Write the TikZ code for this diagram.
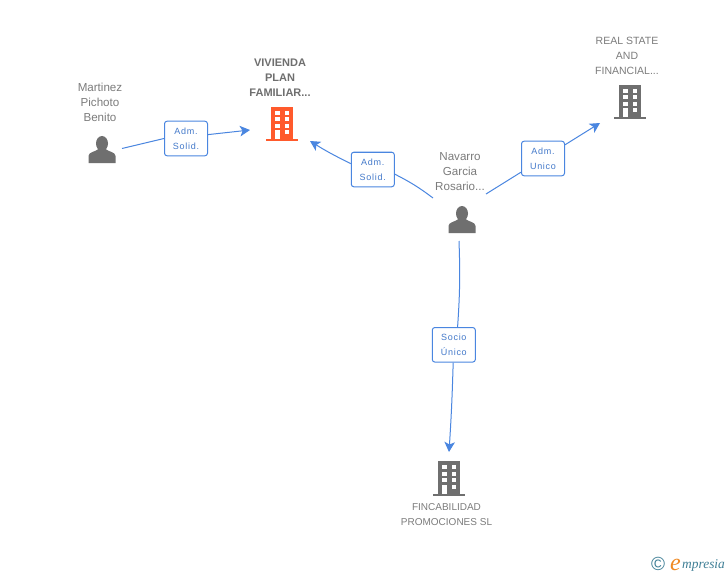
\documentclass[tikz,border=0pt]{standalone}
\usepackage{fontspec}
\setmainfont{Liberation Sans}
\newfontfamily\logofont{Liberation Serif}
\usetikzlibrary{arrows.meta}
\definecolor{linkblue}{HTML}{4A86E0}
\definecolor{icongray}{HTML}{6F6F6F}
\definecolor{textgray}{HTML}{7C7C7C}
\definecolor{iconred}{HTML}{FF5A2C}
\definecolor{logoteal}{HTML}{3F7F96}
\definecolor{logoorange}{HTML}{F08A24}
\tikzset{
    entity/.style={text=textgray,align=center,inner sep=0pt,font=\fontsize{10}{15}\selectfont},
    personname/.style={entity,font=\fontsize{11.6}{15}\selectfont},
    boldentity/.style={entity,text=icongray,font=\fontsize{11}{15}\selectfont\bfseries},
    role/.style={draw=linkblue,line width=1pt,rounded corners=2.5pt,fill=white,text=linkblue!90!black,align=center,inner sep=0pt,
        minimum width=43pt,minimum height=34.5pt,font=\fontsize{9}{15}\selectfont\addfontfeature{LetterSpace=8}},
    link/.style={draw=linkblue,line width=1pt},
    linkto/.style={link,-{Stealth[length=10pt,width=10.5pt,inset=2.5pt]}},
    pics/person/.style={code={
        \fill [icongray] (0,-6.5) ellipse (6 and 7.5);
        \fill [icongray] (-13.5,13) -- (-13.5,6) .. controls (-13.5,2) and (-7,2) .. (-3.5,-1) -- (3.5,-1)
            .. controls (7,2) and (13.5,2) .. (13.5,6) -- (13.5,13) -- cycle;
    }},
    pics/building/.style={code={
        \fill [#1] (-11,-17) rectangle (11,16);
        \fill [#1] (-16,15.5) rectangle (16,17.5);
        \foreach \rowy in {-13,-6.5,0} {
            \fill [white] (-7,\rowy) rectangle (-2.2,\rowy+4);
            \fill [white] (2.5,\rowy) rectangle (7.3,\rowy+4);
        }
        \fill [white] (2.5,6.5) rectangle (7.3,10.5);
        \fill [white] (-7,6.5) rectangle (-2.2,15.5);
    }}
}

\begin{document}
\begin{tikzpicture}[x=1pt,y=-1pt]
            \useasboundingbox [fill=white] (0,0) rectangle (728,575);
            \node [personname] (martinez) at (100,102) {Martinez\\Pichoto\\Benito};
            \pic at (102,150) {person};
            \node [boldentity] (vivienda) at (280,78) {VIVIENDA\\PLAN\\FAMILIAR...};
            \pic at (282,124) {building=iconred};
            \node [personname] (navarro) at (460,172) {Navarro\\Garcia\\Rosario...};
            \pic at (462,220) {person};
            \node [entity,font=\fontsize{10.5}{15}\selectfont] (realstate) at (627,56) {REAL STATE\\AND\\FINANCIAL...};
            \pic at (630,102) {building=icongray};
            \node [entity] (fincabilidad) at (446.5,514.5) {FINCABILIDAD\\PROMOCIONES SL};
            \pic at (449,478) {building=icongray};
            \coordinate (martinezout) at (122,148.5);
            \coordinate (viviendain) at (250,130);
            \coordinate (viviendain2) at (310,141);
            \coordinate (navarroleft) at (433,198);
            \coordinate (navarroright) at (486,194);
            \coordinate (navarrodown) at (459,241);
            \coordinate (realstatein) at (600,123);
            \coordinate (fincabilidadin) at (449,452);
            \node [role] (admsolid1) at (186,138.5) {Adm.\\Solid.};
            \node [role] (admsolid2) at (372.8,169.5) {Adm.\\Solid.};
            \node [role] (admunico) at (543,158.5) {Adm.\\Unico};
            \node [role] (sociounico) at (453.8,344.8) {Socio\\Único};
            \draw [link] (martinezout) to (admsolid1.west);
            \draw [linkto] (admsolid1.10) to (viviendain);
            \draw [link] (navarroleft) to [bend right=5] (admsolid2.-12);
            \draw [linkto] (admsolid2.165) to [bend left=3] (viviendain2);
            \draw [link] (navarroright) to (admunico);
            \draw [linkto] (admunico) to (realstatein);
            \draw [link] (navarrodown) to [bend left=3] (sociounico.78);
            \draw [linkto] (sociounico.268) to [bend left=1] (fincabilidadin);
            \node [inner sep=0pt,text=logoteal,font=\fontsize{19}{19}\selectfont] (logomark) at (658,564) {©};
            \node [inner sep=0pt,anchor=base west,text=logoorange,font=\logofont\fontsize{24}{24}\selectfont\itshape] (logoe) at (670,570) {e};
            \node [inner sep=0pt,anchor=base west,text=logoteal,font=\logofont\fontsize{13.4}{14}\selectfont\itshape] (logotext) at (682,568) {mpresia};
        \end{tikzpicture}
\end{document}
